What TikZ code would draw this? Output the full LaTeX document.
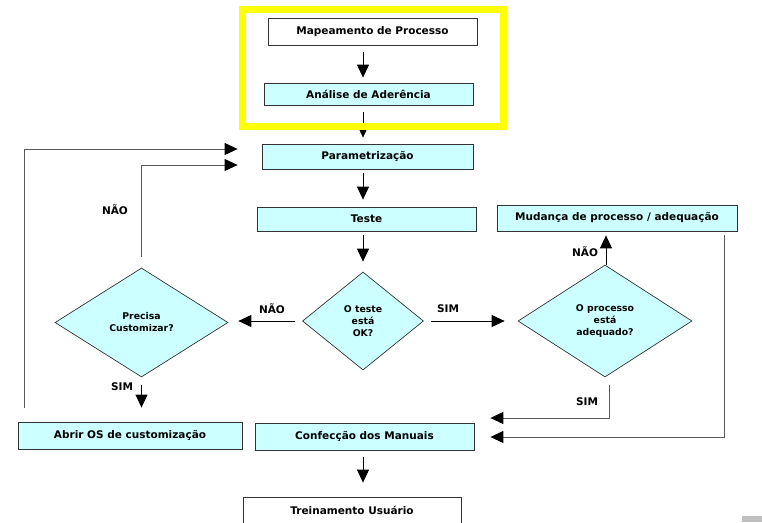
\documentclass[tikz,border=0pt]{standalone}
\usepackage{fontspec}
\setmainfont{DejaVu Sans}
\usetikzlibrary{shapes.geometric,arrows.meta}
\definecolor{boxcyan}{HTML}{CCFFFF}
\definecolor{markyellow}{HTML}{FFFF00}
\tikzset{
  box/.style={draw=black!80, line width=0.8pt, fill=boxcyan, inner sep=0pt,
    font=\bfseries\fontsize{10.5}{12}\selectfont},
  plainbox/.style={box, fill=white},
  decision/.style={diamond, draw=black!80, line width=0.7pt, fill=boxcyan, inner sep=0pt,
    align=center, font=\bfseries\fontsize{9.3}{12}\selectfont},
  lbl/.style={font=\bfseries\fontsize{10.5}{12}\selectfont},
  arr/.style={line width=0.9pt, -{Triangle[length=13pt,width=12pt,color=black]}},
  elbow/.style={arr, draw=black!65}
}
\begin{document}
\begin{tikzpicture}
  [x=1pt, y=-1pt]
    \useasboundingbox (0,0) rectangle (762,522);
    \clip (0,0) rectangle (762,522);

    \node[plainbox, minimum width=209pt, minimum height=27pt] (map) at (372.5,31.5) {Mapeamento de Processo};
    \node[box, minimum width=209pt, minimum height=22pt] (ana) at (368.5,94) {Análise de Aderência};
    \node[box, minimum width=211pt, minimum height=25pt] (par) at (367.5,156.5) {Parametrização};
    \node[box, minimum width=219pt, minimum height=24pt] (tes) at (366.5,219) {Teste};
    \node[box, minimum width=240pt, minimum height=26pt] (mud) at (617,218) {Mudança de processo / adequação};
    \node[box, minimum width=219pt, minimum height=27pt] (con) at (364.5,436.5) {Confecção dos Manuais};
    \node[box, minimum width=224pt, minimum height=27pt] (abr) at (130,435.5) {Abrir OS de customização};
    \node[plainbox, minimum width=218pt, minimum height=26pt] (tre) at (352,510) {Treinamento Usuário};

    \node[decision, minimum width=121pt, minimum height=98pt] (dok) at (363,321) {O teste\\está\\OK?};
    \node[decision, minimum width=174pt, minimum height=112pt] (dpr) at (605,321) {O processo\\está\\adequado?};
    \node[decision, minimum width=173pt, minimum height=109pt] (dcu) at (141.5,322.5) {Precisa\\Customizar?};

    \draw[arr, shorten <=7pt, shorten >=5pt] (map.south -| dok.center) -- (ana.north -| dok.center);
    \draw[arr, shorten <=7pt, shorten >=6pt] (ana.south -| dok.center) -- (par.north -| dok.center);
    \draw[arr, shorten <=4pt, shorten >=7pt] (par.south -| dok.center) -- (tes.north -| dok.center);
    \draw[arr, shorten <=4pt, shorten >=10pt] (tes.south -| dok.center) -- (dok.north);
    \draw[arr, shorten <=7pt, shorten >=10pt] (dok.west) -- (dok.west -| dcu.east);
    \draw[arr, shorten <=7pt, shorten >=13pt] (dok.east) -- (dpr.west);
    \draw[arr, shorten >=4pt] ([xshift=1pt]dpr.north) -- ([xshift=1pt]dpr.north |- mud.south);
    \draw[arr, shorten <=8pt, shorten >=14pt] (dcu.south) -- (dcu.south |- abr.north);
    \draw[arr, shorten <=7pt, shorten >=14pt] (con.south -| dok.center) -- (tre.north -| dok.center);

    \draw[elbow, shorten <=11pt, shorten >=24pt] (dcu.north) |- ([yshift=-8.5pt]par.west);
    \draw[elbow, shorten <=14pt, shorten >=24pt] ([xshift=7pt]abr.north west) |- ([yshift=7.5pt]par.west);
    \draw[elbow, shorten <=8pt, shorten >=16pt] ([xshift=4pt]dpr.south) |- ([yshift=18.5pt]con.east);
    \draw[elbow, shorten <=4pt, shorten >=16pt] ([xshift=-13pt]mud.south east) |- ([yshift=-0.5pt]con.east);

    \node[lbl] (ln1) at (115,210) {NÃO};
    \node[lbl] (ln2) at (272,309) {NÃO};
    \node[lbl] (ls1) at (448,309) {SIM};
    \node[lbl] (ln3) at (585,252) {NÃO};
    \node[lbl] (ls2) at (587,402) {SIM};
    \node[lbl] (ls3) at (122,387) {SIM};

    \draw[markyellow, line width=7pt] (242,9) rectangle (503,126);
    \fill[black!25] (742,516) rectangle (762,522);
\end{tikzpicture}
\end{document}
